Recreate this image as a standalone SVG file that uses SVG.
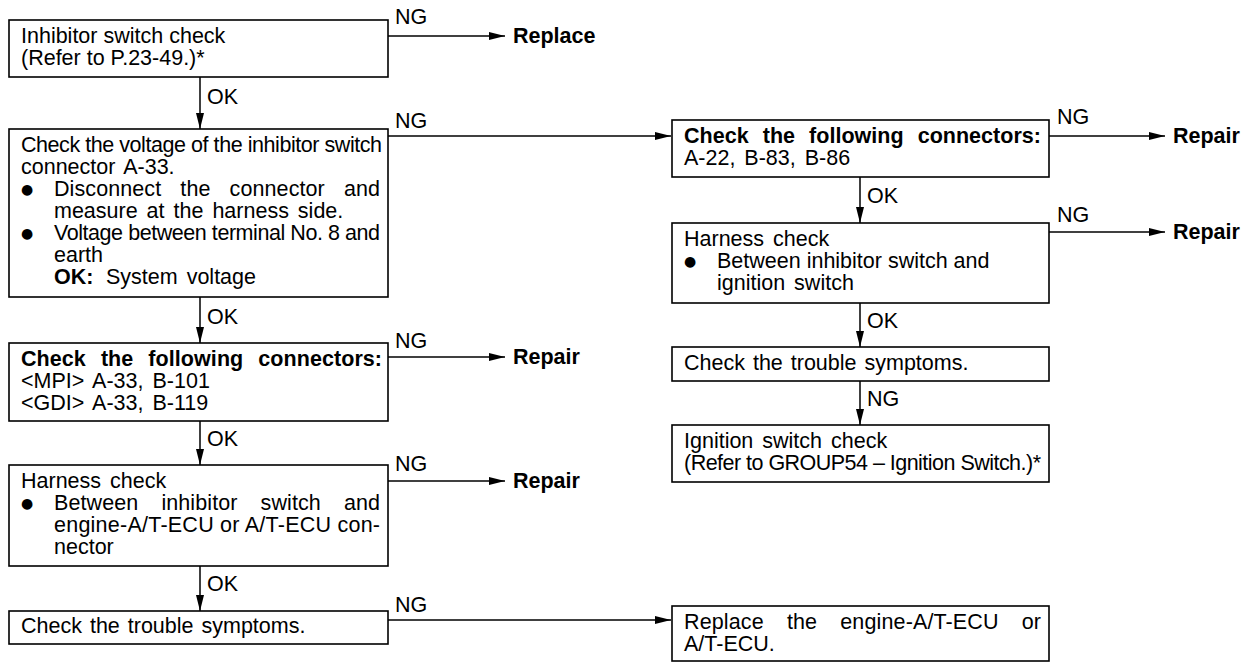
<svg xmlns="http://www.w3.org/2000/svg" width="1243" height="663" viewBox="0 0 1243 663">
<style>
.box{fill:#fff;stroke:#000;stroke-width:1.6}
.t{font-family:"Liberation Sans",Arial,Helvetica,sans-serif;font-size:21.5px;fill:#000}
.b{font-weight:bold}
.bul{font-family:"DejaVu Sans",sans-serif;font-size:14px;fill:#000}
.c{stroke:#000;stroke-width:1.5;fill:none}
</style>
<defs>
<marker id="ah" markerUnits="userSpaceOnUse" markerWidth="16" markerHeight="8" refX="16" refY="4" orient="auto">
<path d="M0,0 L16,4 L0,8 z" fill="#000"/>
</marker>
</defs>
<rect width="1243" height="663" fill="#fff"/>

<g id="connectors">
<line class="c" x1="388" y1="36" x2="505" y2="36" marker-end="url(#ah)"/>
<text class="t" x="395" y="24">NG</text>
<line class="c" x1="200" y1="77" x2="200" y2="129" marker-end="url(#ah)"/>
<text class="t" x="207" y="104">OK</text>
<line class="c" x1="388" y1="136" x2="671" y2="136" marker-end="url(#ah)"/>
<text class="t" x="395" y="128">NG</text>
<line class="c" x1="200" y1="297" x2="200" y2="343" marker-end="url(#ah)"/>
<text class="t" x="207" y="324">OK</text>
<line class="c" x1="388" y1="357" x2="505" y2="357" marker-end="url(#ah)"/>
<text class="t" x="395" y="348">NG</text>
<line class="c" x1="200" y1="421" x2="200" y2="465" marker-end="url(#ah)"/>
<text class="t" x="207" y="446">OK</text>
<line class="c" x1="388" y1="481" x2="505" y2="481" marker-end="url(#ah)"/>
<text class="t" x="395" y="471">NG</text>
<line class="c" x1="200" y1="566" x2="200" y2="611" marker-end="url(#ah)"/>
<text class="t" x="207" y="591">OK</text>
<line class="c" x1="388" y1="620" x2="671" y2="620" marker-end="url(#ah)"/>
<text class="t" x="395" y="612">NG</text>

<line class="c" x1="1049" y1="136" x2="1165" y2="136" marker-end="url(#ah)"/>
<text class="t" x="1057" y="124">NG</text>
<line class="c" x1="860" y1="177" x2="860" y2="223" marker-end="url(#ah)"/>
<text class="t" x="867" y="203">OK</text>
<line class="c" x1="1049" y1="232" x2="1165" y2="232" marker-end="url(#ah)"/>
<text class="t" x="1057" y="222">NG</text>
<line class="c" x1="860" y1="303" x2="860" y2="347" marker-end="url(#ah)"/>
<text class="t" x="867" y="328">OK</text>
<line class="c" x1="860" y1="381" x2="860" y2="425" marker-end="url(#ah)"/>
<text class="t" x="867" y="406">NG</text>
</g>

<g id="n1">
<rect class="box" x="9" y="20" width="379" height="57"/>
<text class="t" x="21" y="43">Inhibitor switch check</text>
<text class="t" x="21" y="65">(Refer to P.23-49.)*</text>
</g>
<g id="r1"><text class="t b" x="513" y="43">Replace</text></g>

<g id="n2">
<rect class="box" x="9" y="129" width="379" height="168"/>
<text class="t" x="21" y="152" textLength="361" lengthAdjust="spacing">Check the voltage of the inhibitor switch</text>
<text class="t" x="21" y="174" word-spacing="3">connector A-33.</text>
<text class="bul" x="21" y="194">●</text>
<text class="t" x="54" y="196" word-spacing="13" textLength="326" lengthAdjust="spacing">Disconnect the connector and</text>
<text class="t" x="54" y="218" word-spacing="3">measure at the harness side.</text>
<text class="bul" x="21" y="238">●</text>
<text class="t" x="54" y="240" textLength="326" lengthAdjust="spacing">Voltage between terminal No. 8 and</text>
<text class="t" x="54" y="262">earth</text>
<text class="t b" x="54" y="284">OK:</text>
<text class="t" x="106" y="284" word-spacing="3">System voltage</text>
</g>

<g id="n3">
<rect class="box" x="9" y="343" width="379" height="78"/>
<text class="t b" x="21" y="366" word-spacing="9" textLength="361" lengthAdjust="spacing">Check the following connectors:</text>
<text class="t" x="21" y="388" word-spacing="3">&lt;MPI&gt; A-33, B-101</text>
<text class="t" x="21" y="410" word-spacing="3">&lt;GDI&gt; A-33, B-119</text>
</g>
<g id="r3"><text class="t b" x="513" y="364">Repair</text></g>

<g id="n4">
<rect class="box" x="9" y="465" width="379" height="101"/>
<text class="t" x="21" y="488" word-spacing="3">Harness check</text>
<text class="bul" x="21" y="508">●</text>
<text class="t" x="54" y="510" word-spacing="17" textLength="326" lengthAdjust="spacing">Between inhibitor switch and</text>
<text class="t" x="54" y="532" textLength="326" lengthAdjust="spacing">engine-A/T-ECU or A/T-ECU con-</text>
<text class="t" x="54" y="554">nector</text>
</g>
<g id="r4"><text class="t b" x="513" y="488">Repair</text></g>

<g id="n5">
<rect class="box" x="9" y="611" width="379" height="33"/>
<text class="t" x="21" y="633" word-spacing="2">Check the trouble symptoms.</text>
</g>

<g id="nA">
<rect class="box" x="672" y="120" width="377" height="57"/>
<text class="t b" x="684" y="143" word-spacing="8" textLength="357" lengthAdjust="spacing">Check the following connectors:</text>
<text class="t" x="684" y="165" word-spacing="3">A-22, B-83, B-86</text>
</g>
<g id="rA"><text class="t b" x="1173" y="143">Repair</text></g>

<g id="nB">
<rect class="box" x="672" y="223" width="377" height="80"/>
<text class="t" x="684" y="246" word-spacing="3">Harness check</text>
<text class="bul" x="684" y="266">●</text>
<text class="t" x="717" y="268">Between inhibitor switch and</text>
<text class="t" x="717" y="290" word-spacing="3">ignition switch</text>
</g>
<g id="rB"><text class="t b" x="1173" y="239">Repair</text></g>

<g id="nC">
<rect class="box" x="672" y="347" width="377" height="34"/>
<text class="t" x="684" y="370" word-spacing="2">Check the trouble symptoms.</text>
</g>

<g id="nD">
<rect class="box" x="672" y="425" width="377" height="57"/>
<text class="t" x="684" y="448" word-spacing="3">Ignition switch check</text>
<text class="t" x="684" y="470" textLength="357" lengthAdjust="spacing">(Refer to GROUP54 – Ignition Switch.)*</text>
</g>

<g id="nE">
<rect class="box" x="672" y="606" width="377" height="55"/>
<text class="t" x="684" y="629" word-spacing="17" textLength="357" lengthAdjust="spacing">Replace the engine-A/T-ECU or</text>
<text class="t" x="684" y="651">A/T-ECU.</text>
</g>
</svg>
